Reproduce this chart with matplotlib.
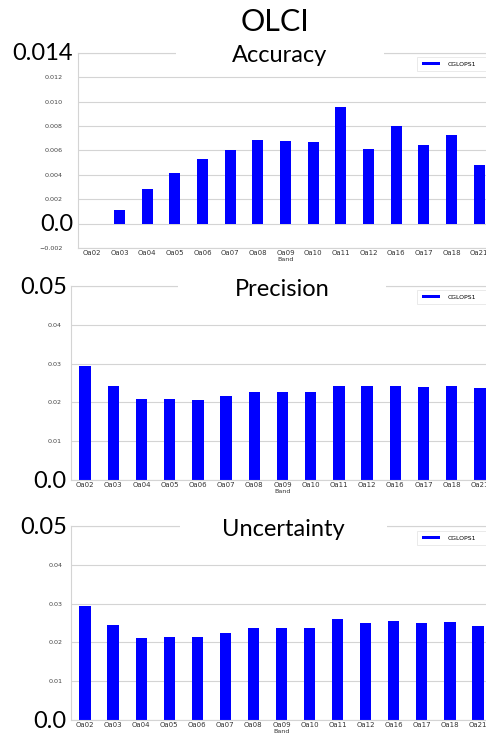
import numpy as np
import matplotlib
matplotlib.use("Agg")
import matplotlib.pyplot as plt
from matplotlib.patches import Rectangle

bands = ["Oa02", "Oa03", "Oa04", "Oa05", "Oa06", "Oa07", "Oa08", "Oa09",
         "Oa10", "Oa11", "Oa12", "Oa16", "Oa17", "Oa18", "Oa21"]

accuracy = [0.0, 0.0011, 0.00284, 0.00413, 0.00532, 0.0060, 0.00686, 0.00675,
            0.00672, 0.00959, 0.00614, 0.0080, 0.00647, 0.00727, 0.00477]
precision = [0.0294, 0.0242, 0.0209, 0.0208, 0.0206, 0.0216, 0.0227, 0.0227,
             0.0227, 0.0241, 0.0241, 0.0241, 0.0239, 0.0241, 0.0237]
uncertainty = [0.0294, 0.0244, 0.0212, 0.0213, 0.0215, 0.0224, 0.0237, 0.0237,
               0.0236, 0.0261, 0.0249, 0.0255, 0.0249, 0.0253, 0.0243]

acc_ticks = [-0.002, 0.0, 0.002, 0.004, 0.006, 0.008, 0.010, 0.012, 0.014]
acc_labels = ["\u22120.002", "", "0.002", "0.004", "0.006", "0.008", "0.010", "0.012", ""]
pu_ticks = [0.0, 0.01, 0.02, 0.03, 0.04, 0.05]
pu_labels = ["", "0.01", "0.02", "0.03", "0.04", ""]

W, H = 486, 735
fig = plt.figure(figsize=(W / 100, H / 100), dpi=100)
fig.patch.set_facecolor("white")


def px_box(left, right, top, bottom):
    return [left / W, 1 - bottom / H, (right - left) / W, (bottom - top) / H]


def panel(box, values, ticks, labels, ylim, title, title_x, gap, big, ypad, leg_top):
    left, right, top, bottom = box
    ax = fig.add_axes(px_box(*box))
    x = np.arange(len(bands))
    ax.bar(x, values, width=0.4, color="#0000ff", edgecolor="#0000ff",
           linewidth=0, label="CGLOPS1", zorder=2)
    ax.set_xlim(-0.5, len(bands) - 0.5)
    ax.set_ylim(*ylim)
    ax.set_xticks(x, labels=bands)
    ax.set_yticks(ticks, labels=labels)
    ax.tick_params(axis="x", length=0, pad=1.5, labelsize=5.0, colors="#333333")
    ax.tick_params(axis="y", length=0, pad=ypad, labelsize=4.6, colors="#444444")
    ax.set_xlabel("Band", fontsize=4.6, labelpad=0.5, color="#333333")
    ax.grid(axis="y", color="#d4d4d4", linewidth=0.8, zorder=0)
    ax.set_axisbelow(True)
    for s in ax.spines.values():
        s.set_color("#d4d4d4")
        s.set_linewidth(0.8)

    # legend box starting at x=417 px, running off the right edge
    w_px = right - left
    h_px = bottom - top
    x0 = (417 - left) / w_px
    y1 = 1 - (leg_top - top) / h_px
    leg = ax.legend(loc="upper left", bbox_to_anchor=(x0, y1 - 0.2, 80 / w_px, 0.2),
                    mode="expand", fontsize=4.4, borderaxespad=0, borderpad=0.75,
                    frameon=True, fancybox=False, handlelength=3.0,
                    handleheight=0.6, handletextpad=1.2)
    leg.get_frame().set_edgecolor("#e0e0e0")
    leg.get_frame().set_linewidth(0.6)

    # white gap in the top line behind the title
    fig.add_artist(Rectangle((gap[0] / W, 1 - (top + 5) / H), (gap[1] - gap[0]) / W,
                             10 / H, transform=fig.transFigure, facecolor="white",
                             edgecolor="none", zorder=2))
    fig.text(title_x / W, 1 - (top + 3) / H, title, fontsize=17, family="Lato",
             ha="center", va="center", zorder=3)

    # large overlaid tick labels
    for val, txt, off in big:
        ax.annotate(txt, xy=(0, val), xycoords=("axes fraction", "data"),
                    xytext=(off, -1), textcoords="offset pixels", ha="right",
                    va="center", fontsize=17, family="Lato", annotation_clip=False)
    return ax


panel((78, 493, 53, 248), accuracy, acc_ticks, acc_labels, (-0.002, 0.014),
      "Accuracy", 280, (176, 384), [(0.014, "0.014", -5), (0.0, "0.0", -5)], 11, 57)
panel((71, 494, 286, 480), precision, pu_ticks, pu_labels, (0.0, 0.05),
      "Precision", 282, (178, 386), [(0.05, "0.05", -4), (0.0, "0.0", -5)], 6.5, 290)
panel((71, 492, 526, 720), uncertainty, pu_ticks, pu_labels, (0.0, 0.05),
      "Uncertainty", 283, (180, 387), [(0.05, "0.05", -4), (0.0, "0.0", -5)], 6, 531)

fig.text(275 / W, 1 - 22 / H, "OLCI", fontsize=22, family="Lato",
         ha="center", va="center")

fig.savefig("out.png", dpi=100)
